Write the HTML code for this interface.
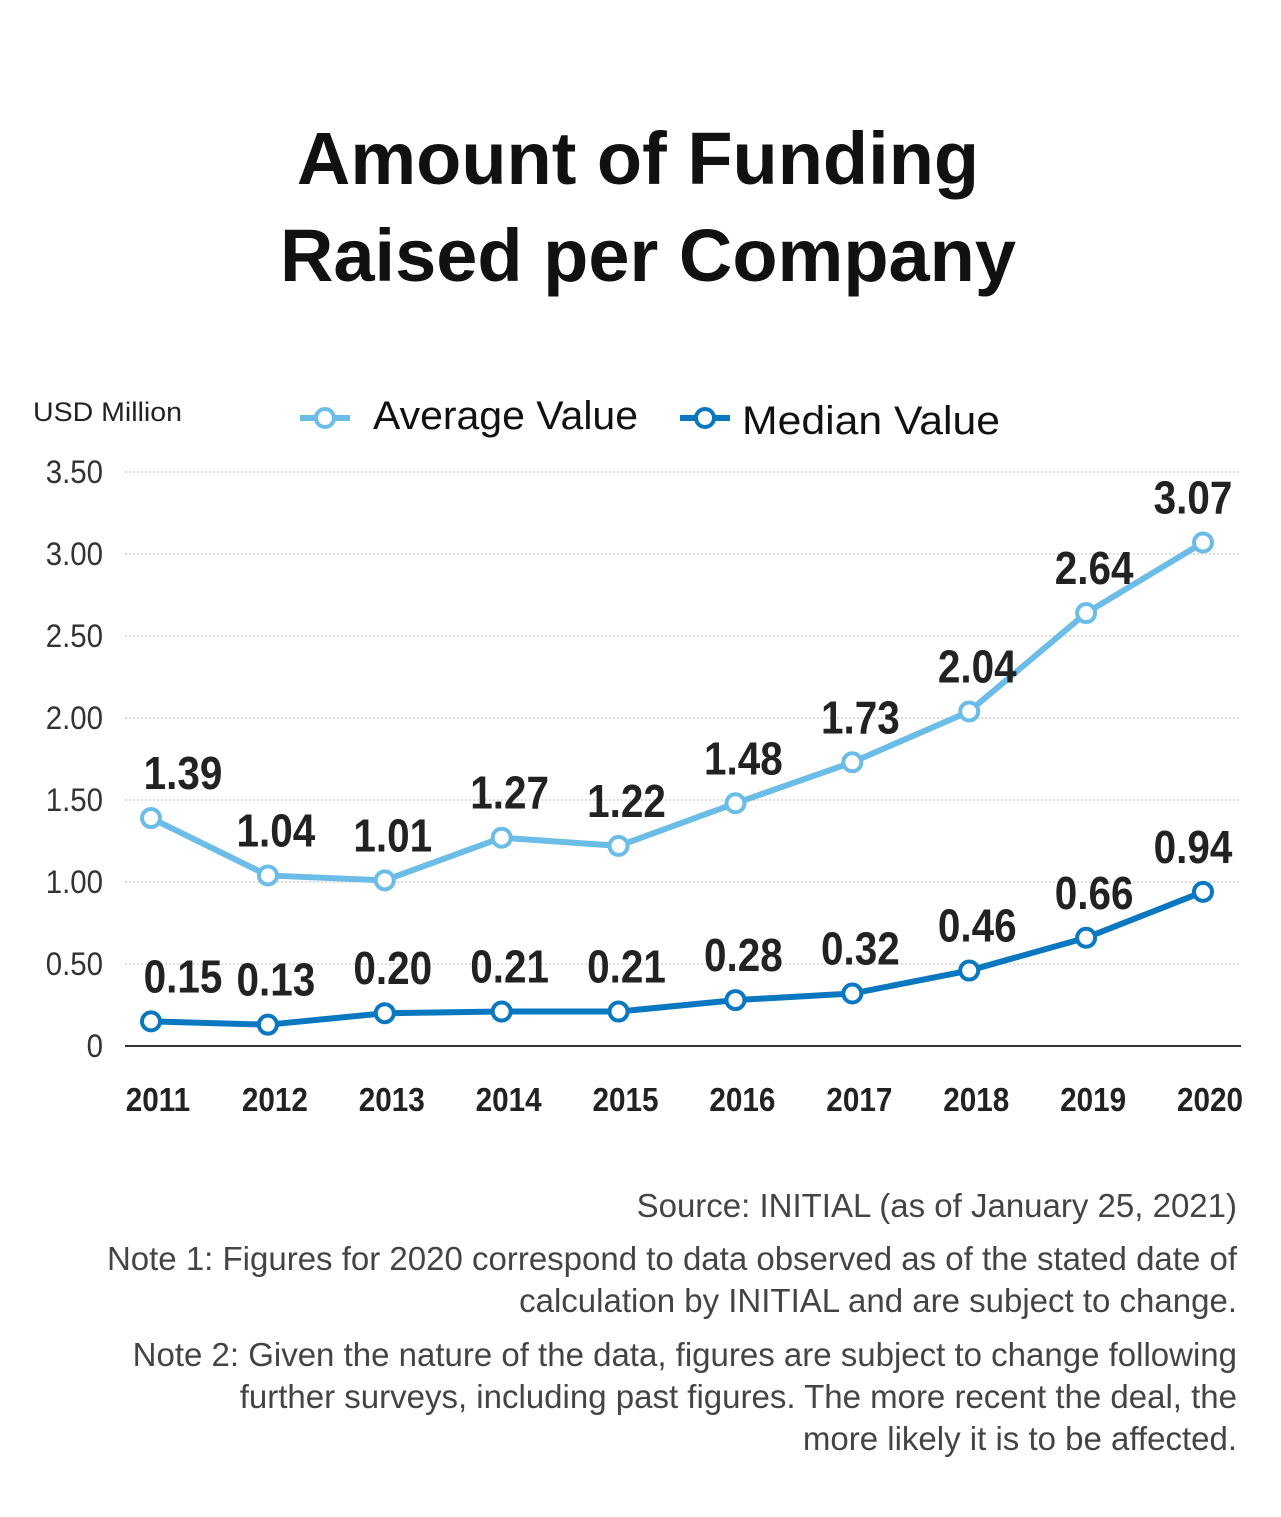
<!DOCTYPE html>
<html><head><meta charset="utf-8"><style>
body{margin:0;background:#fff;}
svg{display:block;}
.t{font-family:"Liberation Sans",sans-serif;}
.n{font-family:"Liberation Sans",sans-serif;}
</style></head><body>
<svg id="chart" width="1281" height="1517" viewBox="0 0 1281 1517">
<rect width="1281" height="1517" fill="#fff"/>
<g class="t" font-weight="bold" font-size="74" text-anchor="middle" fill="#111">
<text x="638" y="184">Amount of Funding</text>
<text x="648" y="281">Raised per Company</text>
</g>
<text class="t" x="33" y="421" font-size="27" fill="#222" textLength="149" lengthAdjust="spacingAndGlyphs">USD Million</text>
<g>
<line x1="300" y1="418" x2="350" y2="418" stroke="#6bbde8" stroke-width="6"/>
<circle cx="325" cy="418" r="9" fill="#fff" stroke="#6bbde8" stroke-width="4"/>
<text class="t" x="373" y="429" font-size="40" fill="#111" textLength="265" lengthAdjust="spacingAndGlyphs">Average Value</text>
</g>
<g>
<line x1="680" y1="418" x2="730" y2="418" stroke="#0a78c0" stroke-width="6"/>
<circle cx="705" cy="418" r="9" fill="#fff" stroke="#0a78c0" stroke-width="4"/>
<text class="t" x="742" y="434" font-size="40" fill="#111" textLength="258" lengthAdjust="spacingAndGlyphs">Median Value</text>
</g>
<g id="grid"></g><g id="axes"></g><g id="series"></g>
<g class="t" font-size="33" fill="#444" text-anchor="end">
<text x="1237" y="1217">Source: INITIAL (as of January 25, 2021)</text>
<text x="1237" y="1270">Note 1: Figures for 2020 correspond to data observed as of the stated date of</text>
<text x="1237" y="1312">calculation by INITIAL and are subject to change.</text>
<text x="1237" y="1366">Note 2: Given the nature of the data, figures are subject to change following</text>
<text x="1237" y="1408">further surveys, including past figures. The more recent the deal, the</text>
<text x="1237" y="1450">more likely it is to be affected.</text>
</g>
</svg>
<script>
const years=["2011","2012","2013","2014","2015","2016","2017","2018","2019","2020"];
const averageValues=[1.39,1.04,1.01,1.27,1.22,1.48,1.73,2.04,2.64,3.07];
const medianValues=[0.15,0.13,0.20,0.21,0.21,0.28,0.32,0.46,0.66,0.94];
const yTicks=[0,0.5,1,1.5,2,2.5,3,3.5];
const yTickLabels=["0","0.50","1.00","1.50","2.00","2.50","3.00","3.50"];
const NS="http://www.w3.org/2000/svg";
const X=i=>151+i*(1203-151)/9;
const Y=v=>1046-v*164;
function mk(tag,attrs,parent){const e=document.createElementNS(NS,tag);for(const k in attrs)e.setAttribute(k,attrs[k]);parent.appendChild(e);return e;}
const grid=document.getElementById('grid'),axes=document.getElementById('axes'),series=document.getElementById('series');
yTicks.forEach((v,i)=>{
 if(v>0){const l=mk('line',{x1:125,x2:1241,y1:Y(v),y2:Y(v),stroke:'#bbb','stroke-width':1,'stroke-dasharray':'2,2'},grid);
 
 }
 const t=mk('text',{x:103/0.92,y:Y(v)+11,'font-size':32,fill:'#333','text-anchor':'end',class:'n',transform:'scale(0.92,1)'},axes);
 t.textContent=yTickLabels[i];
 
 
});
const ax=mk('line',{x1:125,x2:1241,y1:1046,y2:1046,stroke:'#333','stroke-width':2},axes);


const ys=0.9;
years.forEach((y,i)=>{
 const t=mk('text',{x:(X(i)+7)/ys,y:1111,'font-size':33,fill:'#222','text-anchor':'middle',class:'n','font-weight':'bold',transform:'scale('+ys+',1)'},axes);
 t.textContent=y;
 
 
});
const vs=0.88;
function draw(vals,color,name){
 const g=mk('g',{},series);
 
 
 const p=mk('polyline',{points:vals.map((v,i)=>X(i)+','+Y(v)).join(' '),fill:'none',stroke:color,'stroke-width':6,'stroke-linejoin':'round'},g);
 
 
 vals.forEach((v,i)=>{
  const c=mk('circle',{cx:X(i),cy:Y(v),r:9,fill:'#fff',stroke:color,'stroke-width':4},g);
  
  
  const dx=i===0?32:(i===9?-10:8);
  const t=mk('text',{x:(X(i)+dx)/vs,y:Y(v)-29,'font-size':46,'font-weight':'bold',fill:'#222','text-anchor':'middle',class:'n',transform:'scale('+vs+',1)'},g);
  t.textContent=v.toFixed(2);
  
  
 });
}
draw(averageValues,'#6bbde8','average');
draw(medianValues,'#0a78c0','median');
</script>
</body></html>
